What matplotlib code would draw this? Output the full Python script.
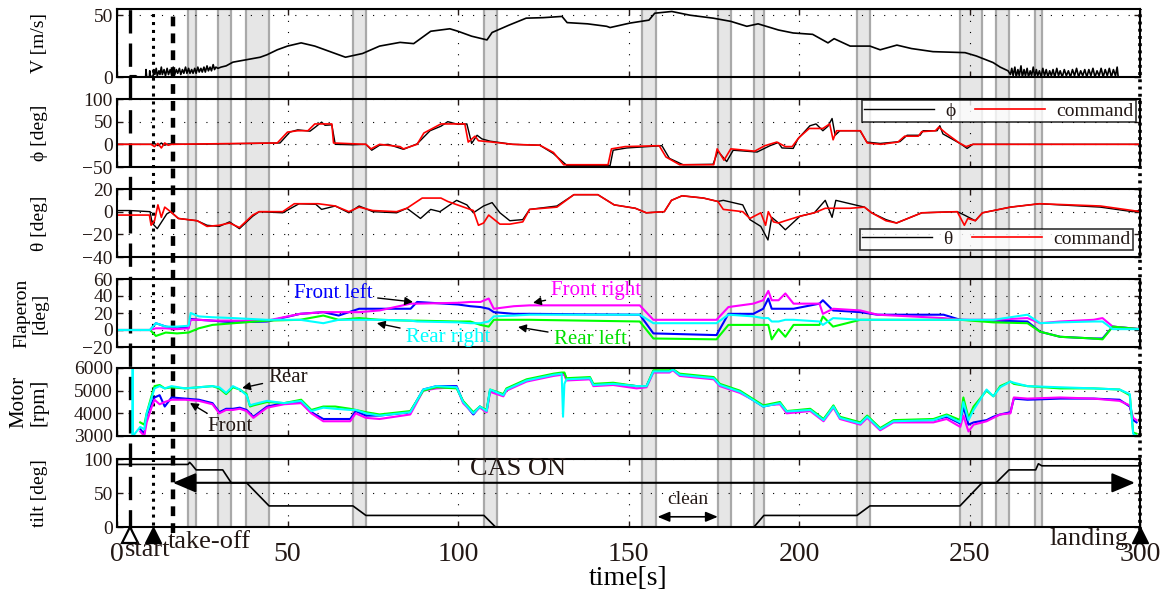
import matplotlib
matplotlib.use('Agg')
import matplotlib.pyplot as plt

plt.rcParams['font.family'] = ['Liberation Serif', 'DejaVu Serif']
plt.rcParams['text.color'] = '#231815'
plt.rcParams['xtick.color'] = '#231815'
plt.rcParams['ytick.color'] = '#231815'

# ---- events / shaded periods (s) ----
t_start = 3.8
t_rotor = 10.6
t_takeoff = 16.4
t_landing = 300.0
bands = [(20.8, 23.2), (29.7, 33.4), (37.8, 44.6), (69.2, 73.0),
         (107.6, 111.4), (154.0, 158.0), (176.2, 180.0), (186.8, 189.7),
         (217.0, 220.8), (247.2, 253.7), (257.8, 261.6), (269.2, 271.3)]

# ---- airspeed ----
v_t = [3.9, 5.5, 6.0, 8.4, 8.5, 8.7, 9.5, 9.6, 9.8, 10.6, 10.8, 11.1, 11.5,
       11.8, 12.3, 12.6, 13.0, 13.3, 13.8, 14.2, 14.7, 15.1, 15.6, 16.0,
       16.5, 16.9, 17.4, 17.8, 18.3, 18.7, 19.2, 19.6, 20.1, 20.5, 21.0,
       21.4, 21.9, 22.3, 22.8, 23.2, 23.7, 24.1, 24.6, 25.0, 25.5, 25.9,
       26.4, 26.8, 27.3, 27.7, 28.2, 28.6, 29.0, 29.6, 30.5, 32, 34, 38,
       42, 44, 47, 50, 54, 58, 62, 67, 72, 77, 83, 87, 92, 97.6, 100, 104,
       108.5, 110, 115, 120, 125, 130.5, 132, 138, 143.6, 144.6, 150.4, 156,
       157.7, 162.7, 168, 174.8, 180, 184.7, 188, 194, 198.3, 204, 208.5,
       210.3, 215, 220.8, 223.8, 228.7, 233, 239.3, 248.7, 252, 256.9, 259,
       261.3, 262, 262.4, 262.8, 263.3, 263.7, 264.2, 264.6, 265.1, 265.5,
       266, 266.4, 266.9, 267.3, 267.8, 268.2, 268.7, 269.1, 269.6, 270,
       270.5, 271, 271.5, 272, 272.5, 273, 273.5, 274, 274.5, 275, 275.6,
       276.1, 276.6, 277.2, 277.8, 278.4, 279, 279.6, 280.2, 280.8, 281.4,
       282, 282.6, 283.2, 283.8, 284.4, 285, 285.6, 286.2, 286.8, 287.4,
       288, 288.6, 289.2, 289.8, 290.4, 291, 291.6, 292.2, 292.8, 293.3,
       293.6, 295]
v_ms = [1, 1, 0, 0, 6, 0, 0, 5, 0, 1, 6, 2, 7, 1, 5, 2, 8, 2, 6, 1, 7, 2, 6,
        2, 8, 2, 6, 3, 7, 2, 6, 3, 8, 3, 7, 3, 6, 3, 7, 3, 8, 4, 7, 4, 8, 4,
        9, 5, 8, 5, 10, 6, 8, 7, 8, 9, 12, 14, 16, 18, 22, 25, 27.6, 25, 21,
        16, 19, 25, 28, 27, 37, 39, 37, 33, 30, 36, 42, 47.6, 48, 49, 44, 43,
        41, 40, 43.6, 46, 51.6, 53, 50, 47.6, 45, 41, 43, 38, 35.6, 34.5,
        27.6, 31, 25, 25, 22, 25.8, 23, 20.5, 19.7, 17, 11.7, 8, 5, 2, 7, 1,
        8, 0, 6, 1, 9, 0, 6, 1, 7, 0, 5, 1, 8, 0, 6, 1, 5, 0, 7, 1, 6, 0, 5,
        1, 6, 0, 7, 1, 5, 0, 6, 1, 5, 0, 6, 1, 7, 0, 5, 1, 6, 0, 6, 1, 7, 0,
        5, 1, 7, 0, 6, 1, 7, 0, 6, 1, 8, 0, 0]

# ---- roll ----
phi_t = [0, 10, 11, 12, 13, 14, 15, 20, 30, 40, 47.8, 50.7, 53, 56.6, 58, 60,
         61, 63, 64, 69, 73, 74.7, 77, 79.5, 84, 88, 91.8, 95, 97, 100, 102.6,
         104, 105.6, 107, 109.4, 116, 124, 127.9, 132, 144.6, 145.5, 149.5,
         159.8, 162, 166, 174.8, 176.2, 178.8, 180.7, 187.7, 191.5, 193.9,
         195, 198.3, 199.7, 203.2, 205, 207, 208.5, 209.7, 210.6, 212, 217.9,
         219.9, 223.8, 229.6, 231.7, 235.5, 236.4, 240.5, 241.3, 242.2, 247.2,
         249.3, 251, 300]
phi = [0, 0, 2, -3, 3, -2, 1, 0, 1, 2, 3, 27, 32, 29, 37, 49, 42, 43, 0, -1,
       0, -13, -2, 0, -11, 1, 30, 40, 50, 44, 45, 2, 20, 12, 7, 0, -2, -20,
       -47, -47, -13, -8, -3, -31, -45, -44, -15, -38, -13, -17, -3, 4, -8,
       -9, 12, 41, 45, 30, 40, 57, 20, 30, 30, 5, 2, 6, 20, 20, 30, 30, 41,
       23, 2, -9, 0, 0]
phi_cmd_t = [0, 10, 11, 12, 13, 14, 15, 16, 47, 50, 53, 56, 58, 63, 63.5, 73,
             74.5, 77, 83, 84, 88, 90, 95, 102, 103, 105, 106, 110, 116, 124,
             128, 131, 144, 145, 149, 159, 161, 165, 175, 176, 178, 180, 187,
             190, 193.5, 196, 198, 200, 203, 207, 209, 210, 211, 218, 220, 224,
             229, 231, 235, 236, 240, 241, 243, 247, 249, 251, 300]
phi_cmd = [0, 0, -5, 2, -8, 3, -2, 0, 3, 27, 30, 30, 45, 45, 3, 0, -10, 0, -5,
           -10, 0, 25, 45, 45, 5, 18, 8, 5, 0, -2, -18, -45, -45, -10, -5, -3,
           -28, -45, -45, -10, -35, -10, -15, -3, 5, -5, -5, 15, 35, 35, 45,
           10, 30, 30, 3, 0, 5, 18, 18, 28, 30, 38, 25, 3, -5, 0, 0]

# ---- pitch ----
theta_t = [0, 3.8, 9.7, 10.3, 11.8, 14.6, 15.7, 18, 23.5, 26.4, 30, 33, 35.9,
           39.8, 41.7, 48.6, 53.4, 58.3, 60, 64, 68, 71, 75, 82, 85, 89, 92,
           94.7, 97.6, 99.6, 102.6, 104.5, 107.5, 110, 112.3, 115.2, 119, 121,
           129, 134, 141, 145.8, 152, 155.2, 160.5, 162.6, 165.7, 172, 176.2,
           177.8, 183.5, 185.6, 188.8, 190.9, 192, 194, 196, 200.3, 204.5,
           207.7, 209.7, 210.8, 215, 219.2, 221.3, 225.5, 228.6, 236, 246.4,
           248.5, 251.7, 253.8, 262, 270.5, 288.4, 297.8, 300]
theta = [1, 1, 0, -10, -15, -2, 0, -6, -8, -12, -13, -9, -15, -4, 0, -1, 7,
         6.5, 2, 5, -1, 5, 0, -1, 3, -6, 2, 0, 6, 10, 6, -1, 5, 8, -1, -8, -7,
         2, 5, 15, 15, 6, 3, -1, 0, 10, 14, 12, 9, 10, 6, -7, -13, -25, -5,
         -10, -16, -4, -1, 10, -5, 10, 7, 4, -1, -7, -10, -1, 0, -3, -8, -1, 4,
         7, 4, 0, 1]
theta_cmd_t = [0, 9.5, 10, 11, 12, 13, 14, 15.7, 18, 23.5, 26.4, 30, 33, 35.9,
               39.8, 41.7, 48.6, 52, 59, 64, 68, 71, 75, 82, 85, 89.5, 95, 97,
               104.5, 106, 107.5, 109, 112.3, 115.2, 119, 121, 129, 134, 141,
               145.8, 152, 155.2, 160.5, 162.6, 165.7, 172, 176.2, 177.8,
               183.5, 185.6, 188.8, 190.2, 191, 192.5, 194, 196, 200.3, 204.5,
               207.7, 215, 219.2, 221.3, 225.5, 228.6, 236, 246.4, 248.5,
               249.5, 251.7, 253.8, 262, 270.5, 288.4, 297.8, 300]
theta_cmd = [-3, -3, -12, -8, 6, -5, 4, 0, -6, -8, -13, -12, -10, -14, -3, 0,
             0, 7, 7, 5, 0, 4, 1, 0, 3, 12, 12, 9, 1, -12, -10, -3, -11, -11,
             -9, 2, 4, 15, 15, 6, 3, -1, 0, 10, 14, 12, 9, 2, 0, -6, -1, -12,
             0, -9, -10, -8, -4, -1, 3, 3, 4, -1, -8, -10, -1, 0, -12, -6, -8,
             -1, 4, 7, 5, 1, 0]

# ---- flaperons ----
flap_t = [0, 9.7, 11.4, 14.3, 17.6, 21.0, 21.6, 24, 28, 34.2, 44, 53.7, 60.5,
          65, 71, 77, 86.1, 88, 100, 103.6, 106.6, 109.0, 110.5, 116.4, 121,
          153.3, 157.3, 175.8, 179.3, 186.6, 189.5, 191, 192, 194, 196, 198.4,
          206, 207, 210, 218, 223, 242.4, 247.3, 257, 267, 270.7, 276.6, 286.4,
          289, 292, 300]
flap_fl = [0, 0, 8, 4, 2, 3, 13, 12, 11, 9, 10, 19, 21, 17, 25, 25, 25, 33, 30,
           28, 27, 25, 21, 19, 19, 18, -4, -6, 19, 19, 25, 37, 25, 25, 25, 25,
           31, 35, 23, 21, 18, 18, 12, 11, 10, -2, -8, -10, -10, 4, 1]
flap_fr = [0, 0, 2, 2, 1, 2, 12, 12, 11, 11, 11, 19, 21, 21, 21, 23, 31, 31,
           32, 33, 33, 37, 25, 28, 29, 29, 12, 12, 27, 31, 35, 46, 35, 35, 43,
           31, 31, 19, 25, 23, 18, 14, 12, 12, 14, 8, 10, 12, 14, 4, 1]
flap_rl = [0, 0, -7, -3, -4, -3, -2, 2, 6, 8, 11, 12, 17, 12, 14, 12, 11, 11,
           10, 10, 6, 4, 12, 12, 12, 10, -10, -11, 6, 6, 6, 6, -11, 1, -8, 6,
           6, 16, 4, 12, 12, 12, 12, 9, 8, -2, -8, -10, -11, 4, 1]
flap_rr = [0, 0, 8, 4, 4, 5, 20, 16, 15, 14, 12, 12, 8, 12, 12, 12, 11, 10, 9,
           8, 8, 10, 16, 17, 18, 18, 8, 8, 18, 16, 14, 14, 10, 10, 12, 12, 10,
           6, 14, 12, 12, 12, 12, 12, 18, 8, 9, 10, 10, 1, 1]

# ---- motors ----
mot_t = [4.5, 4.6, 4.7, 6.8, 8.0, 8.7, 10.0, 11.0, 12.5, 14.0, 16.0, 20.0, 24,
         28.0, 30.0, 32.0, 34.0, 36, 38.0, 39.0, 40.0, 44.0, 49.0, 54.0, 57.0,
         60.5, 64, 68.4, 70.0, 73, 77.0, 86.0, 89.8, 93.7, 99.6, 101.5, 104.5,
         106.4, 108.4, 109.4, 113.3, 114.2, 120.1, 128.0, 130.4, 130.8, 131.2,
         131.8, 138.7, 139.7, 145.5, 152.4, 155.3, 157.3, 162.0, 163.0, 165.0,
         175.0, 176.8, 182.7, 189.5, 194.4, 196.4, 203.3, 207.2, 210.1, 212.0,
         218.0, 220.0, 223.8, 227.7, 239.4, 243.3, 247.3, 248.2, 249.7, 251.2,
         255.0, 257.0, 259.0, 262.0, 263.0, 267.0, 276.6, 286.4, 294.0, 297.0,
         298.0, 299.0]
mot_front_l = [None, None, None, 3300, 3100, 3900, 4400, 4700, 4800, 4300,
               4700, 4650, 4600, 4450, 4050, 4200, 4200, 4250, 4150, 4000,
               3850, 4300, 4450, 4500, 4050, 3750, 3750, 3750, 4100, 3900,
               3900, 4050, 5050, 5200, 5200, 4500, 3950, 4300, 4100, 5000,
               4800, 5050, 5450, 5700, 5750, 5750, 5750, 5500, 5550, 5250,
               5300, 5200, 5200, 5850, 5850, 5930, 5700, 5550, 5250, 4950,
               4300, 4450, 4050, 4150, 3700, 4300, 3800, 3550, 3850, 3300,
               3650, 3700, 3850, 3550, 4300, 3500, 3600, 3700, 3850, 3950,
               4050, 4650, 4600, 4650, 4650, 4600, 4300, 3700, 3600]
mot_front_r = [None, None, None, 3200, 3000, 3600, 4200, 4600, 4400, 4500,
               4600, 4600, 4550, 4400, 4000, 4150, 4150, 4200, 4100, 3950,
               3800, 4250, 4400, 4450, 4000, 3650, 3650, 3650, 4000, 3800,
               3750, 3950, 5000, 5100, 5150, 4450, 4000, 4250, 4050, 4950,
               4750, 5000, 5400, 5650, 5700, 5700, 5700, 5450, 5500, 5200,
               5250, 5100, 5150, 5800, 5800, 5900, 5650, 5500, 5200, 4900,
               4350, 4400, 4000, 4100, 3650, 4250, 3750, 3500, 3800, 3250,
               3600, 3600, 3750, 3400, 3900, 3200, 3500, 3650, 3800, 3950,
               4000, 4700, 4650, 4700, 4650, 4550, 4350, 3800, 3700]
mot_rear_l = [None, None, None, 3600, 3500, 4000, 4700, 5200, 5250, 5100, 5150,
              5100, 5150, 5200, 5100, 4850, 5150, 5050, 4850, 4300, 4350,
              4500, 4450, 4600, 4150, 4300, 4300, 4200, 4150, 4050, 3950,
              4100, 5000, 5150, 5100, 4550, 4050, 4300, 4150, 5050, 4850,
              5100, 5500, 5750, 5800, 5800, 5800, 5550, 5600, 5300, 5350,
              5200, 5200, 5900, 5900, 5950, 5750, 5600, 5300, 5000, 4350,
              4500, 4100, 4200, 3750, 4350, 3850, 3600, 3900, 3350, 3700,
              3750, 3950, 3700, 4700, 3800, 4300, 5000, 4750, 5200, 5400,
              5300, 5200, 5100, 5100, 5050, 4800, 3150, 3100]
mot_rear_r = [3000, 6000, 3000, 3400, 3300, 4000, 4600, 5100, 5200, 5100, 5200,
              5100, 5150, 5200, 5150, 4900, 5200, 5050, 4800, 4350, 4400,
              4550, 4450, 4550, 4100, 4250, 4200, 4150, 4150, 4000, 3900,
              4050, 5050, 5200, 5150, 4500, 4000, 4300, 4100, 5050, 4800,
              5050, 5450, 5700, 5750, 3850, 5300, 5500, 5550, 5250, 5300,
              5200, 5200, 5850, 5850, 5930, 5700, 5550, 5250, 4950, 4300,
              4450, 4080, 4150, 3700, 4300, 3800, 3550, 3850, 3300, 3650,
              3700, 3900, 3600, 4500, 3700, 4150, 5050, 4750, 5150, 5400,
              5350, 5200, 5150, 5100, 5050, 4850, 3100, 3000]

# ---- nacelle tilt ----
tilt_t = [0, 20.8, 21.3, 21.9, 23.2, 31.0, 33.5, 38.0, 44.6, 69.2, 73.0,
          107.6, 111.0, 186.8, 189.7, 217.0, 220.8, 247.2, 253.7, 257.8,
          261.6, 269.4, 270.2, 271.2, 300]
tilt = [92, 92, 95, 92, 84, 84, 65, 65, 31, 31, 17, 17, 0, 0, 17, 17, 31, 31,
        65, 65, 84, 84, 93, 90, 90]

x_ticks = [0, 50, 100, 150, 200, 250, 300]

W, H = 1175, 597
L, R = 117, 1140
panel_tops = [9, 99, 189, 279, 368, 459]
panel_h = 68


def rect(top, bottom):
    return [L / W, 1 - bottom / H, (R - L) / W, (bottom - top) / H]


fig = plt.figure(figsize=(11.75, 5.97), dpi=100)

# background: shaded periods and event lines across all panels
bg = fig.add_axes(rect(9, 527))
bg.set_xlim(0, 300)
bg.set_ylim(0, 1)
bg.axis('off')
for a, b in bands:
    bg.axvspan(a, b, facecolor='#e6e6e6', edgecolor='#a9a9a9', lw=1.6)
bg.axvline(t_start, ymin=-0.012, ymax=1, color='k', lw=2.4,
           dashes=(7, 3), clip_on=False)
bg.axvline(t_rotor, ymin=-0.012, ymax=1, color='k', lw=2.2,
           dashes=(1, 1.6), clip_on=False)
bg.axvline(t_takeoff, ymin=-0.012, ymax=1, color='k', lw=3.2,
           dashes=(2.2, 1.6), clip_on=False)
bg.axvline(t_landing, ymin=-0.005, ymax=1, color='k', lw=2.6,
           dashes=(0.8, 1.2), clip_on=False)

axes = []
for top in panel_tops:
    ax = fig.add_axes(rect(top, top + panel_h))
    ax.set_facecolor('none')
    ax.set_xlim(0, 300)
    ax.set_xticks(x_ticks)
    ax.tick_params(direction='in', length=4, width=1, top=True, right=True,
                   labelsize=14, pad=3)
    ax.tick_params(axis='x', labelbottom=False)
    ax.grid(True, linestyle=(0, (1, 9)), color='k', lw=0.8)
    for s in ax.spines.values():
        s.set_linewidth(1.5)
    axes.append(ax)
ax_v, ax_phi, ax_th, ax_fl, ax_mo, ax_tilt = axes

ax_v.plot(v_t, v_ms, color='k', lw=1.2)
ax_v.set_ylim(0, 55)
ax_v.set_yticks([0, 50])
ax_v.set_ylabel('V [m/s]', fontsize=14)

ax_phi.plot(phi_t, phi, color='k', lw=1.0, label='ϕ')
ax_phi.plot(phi_cmd_t, phi_cmd, color='#ff0000', lw=1.2, label='command')
ax_phi.set_ylim(-50, 100)
ax_phi.set_yticks([-50, 0, 50, 100])
ax_phi.set_ylabel('ϕ [deg]', fontsize=14)
ax_phi.legend(loc='upper right', bbox_to_anchor=(0.996, 0.985), ncol=2,
              fontsize=14, frameon=True, fancybox=False, edgecolor='k',
              handlelength=3.6, columnspacing=1.0, borderpad=0.1,
              borderaxespad=0, handletextpad=0.6).get_frame().set_linewidth(1.2)

ax_th.plot(theta_t, theta, color='k', lw=1.0, label='θ')
ax_th.plot(theta_cmd_t, theta_cmd, color='#ff0000', lw=1.2, label='command')
ax_th.set_ylim(-40, 20)
ax_th.set_yticks([-40, -20, 0, 20])
ax_th.set_ylabel('θ [deg]', fontsize=14)
ax_th.legend(loc='lower right', bbox_to_anchor=(0.993, 0.1), ncol=2,
             fontsize=14, frameon=True, fancybox=False, edgecolor='k',
             handlelength=3.6, columnspacing=1.0, borderpad=0.1,
             borderaxespad=0, handletextpad=0.6).get_frame().set_linewidth(1.2)

ax_fl.plot(flap_t, flap_fl, color='#0000ff', lw=1.5)
ax_fl.plot(flap_t, flap_fr, color='#ff00ff', lw=1.5)
ax_fl.plot(flap_t, flap_rl, color='#00ff00', lw=1.5)
ax_fl.plot(flap_t, flap_rr, color='#00ffff', lw=1.5)
ax_fl.set_ylim(-20, 60)
ax_fl.set_yticks([-20, 0, 20, 40, 60])
ax_fl.set_ylabel('Flaperon\n[deg]', fontsize=14, linespacing=1.1)
arrow_kw = dict(arrowstyle='-|>', color='k', lw=1.0, mutation_scale=12)
ax_fl.annotate('Front left', xy=(86.8, 33), xytext=(63.3, 43.5),
               color='#0000ff', fontsize=15, ha='center', va='center',
               arrowprops=dict(arrow_kw, shrinkA=2, shrinkB=0))
ax_fl.annotate('Front right', xy=(122, 32), xytext=(140.5, 47),
               color='#ff00ff', fontsize=15, ha='center', va='center',
               arrowprops=dict(arrow_kw, shrinkA=2, shrinkB=0))
ax_fl.annotate('Rear right', xy=(76.2, 8), xytext=(97, -9.4),
               color='#00ffff', fontsize=15, ha='center', va='center',
               arrowprops=dict(arrow_kw, shrinkA=2, shrinkB=0))
ax_fl.annotate('Rear left', xy=(117.6, 3.5), xytext=(138.7, -10.6),
               color='#00e000', fontsize=15, ha='center', va='center',
               arrowprops=dict(arrow_kw, shrinkA=2, shrinkB=0))

ax_mo.plot(mot_t, mot_front_l, color='#0000ff', lw=1.5)
ax_mo.plot(mot_t, mot_front_r, color='#ff00ff', lw=1.5)
ax_mo.plot(mot_t, mot_rear_l, color='#00ff00', lw=1.5)
ax_mo.plot(mot_t, mot_rear_r, color='#00ffff', lw=1.5)
ax_mo.set_ylim(3000, 6000)
ax_mo.set_yticks([3000, 4000, 5000, 6000])
ax_mo.set_ylabel('Motor\n[rpm]', fontsize=15, linespacing=1.1)
ax_mo.annotate('Rear', xy=(36.7, 5118), xytext=(50.1, 5560), fontsize=15,
               ha='center', va='center',
               arrowprops=dict(arrow_kw, shrinkA=2, shrinkB=0))
ax_mo.annotate('Front', xy=(21.4, 4456), xytext=(33.1, 3400), fontsize=15,
               ha='center', va='center',
               arrowprops=dict(arrow_kw, shrinkA=2, shrinkB=0))

ax_tilt.plot(tilt_t, tilt, color='k', lw=1.2)
ax_tilt.set_ylim(0, 100)
ax_tilt.set_yticks([0, 50, 100])
ax_tilt.set_ylabel('tilt [deg]', fontsize=14)
ax_tilt.tick_params(axis='x', labelbottom=True, labelsize=20, pad=11)
ax_tilt.set_xlabel('time[s]', fontsize=20, labelpad=-1)
ax_tilt.annotate('', xy=(t_takeoff, 65), xytext=(298.5, 65),
                 arrowprops=dict(arrowstyle='<|-|>,head_length=1.3,head_width=0.55',
                                 color='k', lw=1.5, mutation_scale=11,
                                 shrinkA=0, shrinkB=0))
ax_tilt.text(117.6, 85, 'CAS ON', fontsize=19, ha='center', va='center')
ax_tilt.annotate('', xy=(158.5, 15), xytext=(176.2, 15),
                 arrowprops=dict(arrowstyle='<|-|>,head_length=0.6,head_width=0.25',
                                 color='k', lw=1.2, mutation_scale=12,
                                 shrinkA=0, shrinkB=0))
ax_tilt.text(167.3, 40, 'clean', fontsize=14, ha='center', va='center')

ax_tilt.plot([t_start], [-12], marker='^', ms=11, mfc='white', mec='k',
             mew=1.6, clip_on=False, ls='none')
ax_tilt.plot([t_rotor, t_landing], [-12, -12], marker='^', ms=11, color='k',
             clip_on=False, ls='none')
ax_tilt.text(2.4, -34, 'start', fontsize=19, ha='left', va='center')
ax_tilt.text(15.0, -22, 'take-off', fontsize=19, ha='left', va='center')
ax_tilt.text(296.5, -17, 'landing', fontsize=19, ha='right', va='center')

for ax in axes:
    ax.yaxis.set_label_coords(-0.067, 0.5)

fig.savefig('out.png', dpi=100)
